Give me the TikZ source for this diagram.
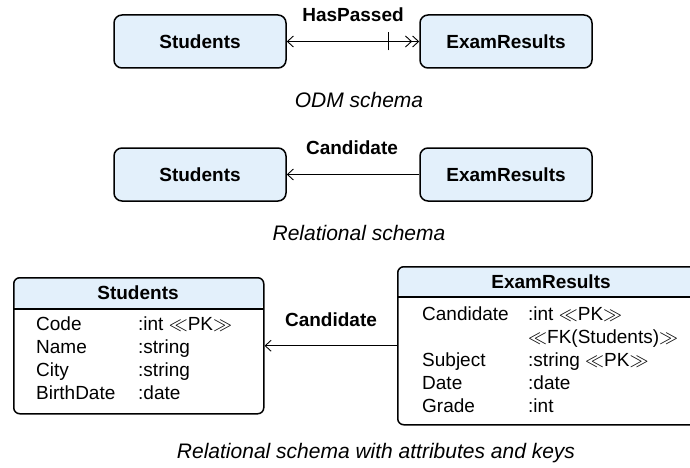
\RequirePackage{fix-cm}
\documentclass[tikz,border=0pt]{standalone}
\usepackage{fontspec}
\setmainfont{Liberation Sans}
\usetikzlibrary{arrows.meta}
\definecolor{boxfill}{RGB}{227,240,251}
\newcommand{\stereo}[1]{$\ll$#1$\gg$}
\begin{document}
\begin{tikzpicture}[x=1pt,y=-1pt,
  every node/.style={font=\fontsize{19}{23}\selectfont},
  entity/.style={draw, line width=1.5pt, rounded corners=8pt, fill=boxfill,
    minimum width=172pt, minimum height=53pt, inner sep=0,
    font=\fontsize{19}{23}\selectfont\bfseries},
  table/.style={draw, line width=1.5pt, rounded corners=6pt, inner sep=0,
    anchor=north west,
    path picture={
      \fill[boxfill] (path picture bounding box.north west) rectangle
        ([yshift=-#1]path picture bounding box.north east);
      \draw[line width=1.5pt] ([yshift=-#1]path picture bounding box.north west) --
        ([yshift=-#1]path picture bounding box.north east);}},
  attrs/.style={anchor=base west, inner sep=0},
  rel/.style={font=\fontsize{19}{23}\selectfont\bfseries},
  caption/.style={font=\fontsize{21}{25}\selectfont\itshape},
  link/.style={line width=0.9pt},
  barb/.tip={Straight Barb[length=6pt,width=11pt]},
]
\clip (0,0) rectangle (690,468);

% ODM schema
\node[entity] (s1) at (200,41.5) {Students};
\node[entity] (e1) at (506,41.5) {ExamResults};
\draw[link, {barb}-{barb[]barb}] (s1) -- coordinate[pos=0.77] (t1) (e1);
\draw[link] ([yshift=-9pt]t1) -- ([yshift=9pt]t1);
\node[rel] (hp) at (353,15) {HasPassed};
\node[caption] (c1) at (359,100) {ODM schema};

% Relational schema
\node[entity] (s2) at (200,174.5) {Students};
\node[entity] (e2) at (506,174.5) {ExamResults};
\draw[link, -{barb}] (e2) -- (s2);
\node[rel] (cd2) at (352,148) {Candidate};
\node[caption] (c2) at (359,233) {Relational schema};

% Relational schema with attributes and keys
\node[table=31pt, minimum width=250pt, minimum height=136pt] (st) at (13,277) {};
\node[rel] (sth) at (138,293) {Students};
\node[attrs] (sta) at (36,330) {\begin{tabular}[t]{@{}p{102pt}@{}l@{}}
  Code & :int \stereo{PK}\\
  Name & :string\\
  City & :string\\
  BirthDate & :date
\end{tabular}};

\node[table=30pt, minimum width=308pt, minimum height=158pt] (er) at (397,266) {};
\node[rel] (erh) at (551,282) {ExamResults};
\node[attrs] (era) at (422,320) {\begin{tabular}[t]{@{}p{106pt}@{}l@{}}
  Candidate & :int \stereo{PK}\\
   & \stereo{FK(Students)}\\
  Subject & :string \stereo{PK}\\
  Date & :date\\
  Grade & :int
\end{tabular}};

\draw[link, -{barb}] (er) -- (st);
\node[rel] (cd3) at (331,320) {Candidate};
\node[caption] (c3) at (376,453) {Relational schema with attributes and keys};
\end{tikzpicture}
\end{document}
